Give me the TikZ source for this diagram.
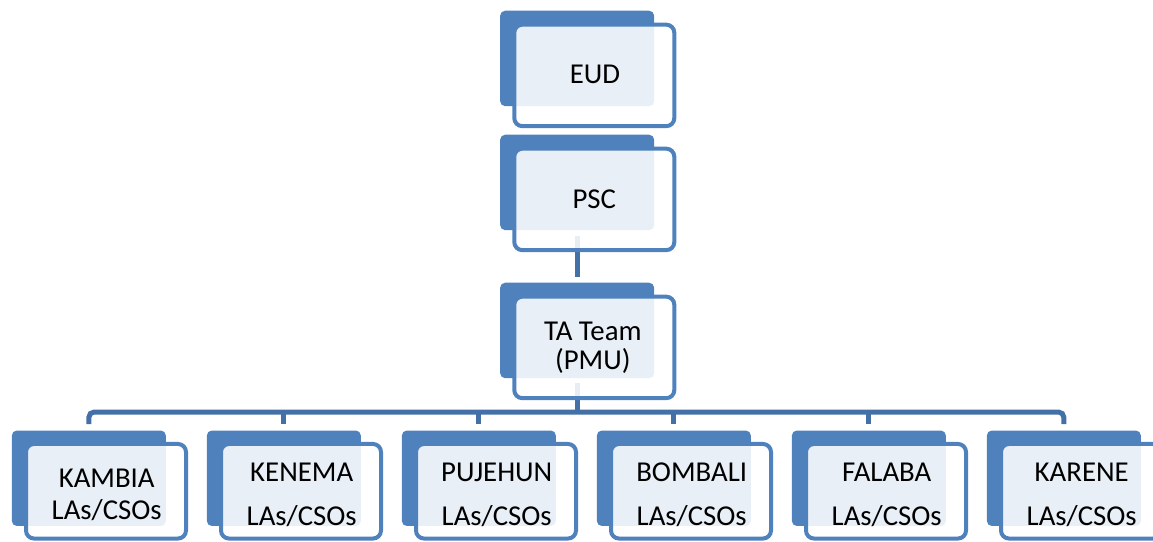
\documentclass[tikz,border=0pt]{standalone}
\usepackage{fontspec}
\setmainfont{Carlito}
\usetikzlibrary{calc}
\pgfdeclarelayer{background}
\pgfsetlayers{background,main}
\definecolor{accent}{HTML}{4F81BD}
\definecolor{linkblue}{HTML}{4470A8}
\tikzset{
  backcard/.style={fill=accent, draw=none, rounded corners=3.75pt,
    minimum width=115.5pt, minimum height=71.6pt, inner sep=0pt, outer sep=0pt},
  frontcard/.style={draw=accent, line width=3pt, fill=white, fill opacity=0.88,
    rounded corners=6pt, minimum width=120pt, inner sep=0pt, outer sep=0pt},
  tallcard/.style={minimum height=76.1pt},
  lowcard/.style={minimum height=70.9pt},
  caption/.style={font=\fontsize{21.6}{26}\selectfont, anchor=base, inner sep=0pt, text=black},
  conn/.style={draw=linkblue, line width=3.75pt},
}
% one unit: back card (filled) plus the framed card laid over it
% #1 name, #2 left, #3 top, #4 height style, #5 vertical offset of the frame centre
\newcommand\orgcard[5]{%
  \node[backcard] (#1-b) at ({#2+77.15},{#3+47.75}) {};
  \node[frontcard,#4] (#1) at ({#2+94.3},{#3+#5}) {};
}
\begin{document}
\begin{tikzpicture}[x=0.75pt,y=-0.75pt]
\useasboundingbox (0,0) rectangle (1153,542);
\clip (0,0) rectangle (1153,542);

% cards
\orgcard{eud}{500}{10.7}{tallcard}{64.7}
\orgcard{psc}{500}{134.7}{tallcard}{64.7}
\orgcard{ta}{500}{282.7}{tallcard}{64.7}
\orgcard{kambia}{11.7}{430.5}{lowcard}{60.75}
\orgcard{kenema}{206.7}{430.5}{lowcard}{60.75}
\orgcard{pujehun}{401.7}{430.5}{lowcard}{60.75}
\orgcard{bombali}{596.7}{430.5}{lowcard}{60.75}
\orgcard{falaba}{791.7}{430.5}{lowcard}{60.75}
\orgcard{karene}{986.7}{430.5}{lowcard}{60.75}

% captions
\node[caption] (eud-t) at (595,83.3) {EUD};
\node[caption] (psc-t) at (594.3,208.3) {PSC};
\node[caption] (ta-t1) at (592.8,340) {TA Team};
\node[caption] (ta-t2) at (592.8,369) {(PMU)};
\node[caption] (kambia-t1) at (106.7,487.3) {KAMBIA};
\node[caption] (kambia-t2) at (106.7,519.3) {LAs/CSOs};
\node[caption] (kenema-t1) at (301.7,481.3) {KENEMA};
\node[caption] (kenema-t2) at (301.7,525.5) {LAs/CSOs};
\node[caption] (pujehun-t1) at (496.7,481.3) {PUJEHUN};
\node[caption] (pujehun-t2) at (496.7,525.5) {LAs/CSOs};
\node[caption] (bombali-t1) at (691.7,481.3) {BOMBALI};
\node[caption] (bombali-t2) at (691.7,525.5) {LAs/CSOs};
\node[caption] (falaba-t1) at (886.7,481.3) {FALABA};
\node[caption] (falaba-t2) at (886.7,525.5) {LAs/CSOs};
\node[caption] (karene-t1) at (1081.7,481.3) {KARENE};
\node[caption] (karene-t2) at (1081.7,525.5) {LAs/CSOs};

% connectors behind the cards
\begin{pgfonlayer}{background}
\coordinate (busy) at (0,412);
\draw[conn] ($(psc-b.south)+(0,6)$) -- ($(ta-b.north)+(0,-6)$);
\draw[conn] ($(ta-b.south)+(0,5)$) -- (busy -| ta-b.south);
\draw[conn, rounded corners=4pt] ($(kambia-b.north)+(0,-6.5)$) |- (busy -| karene-b.north)
  -- ($(karene-b.north)+(0,-6.5)$);
\foreach \n in {kenema,pujehun,bombali,falaba}
  \draw[conn] (busy -| \n-b.north) -- ($(\n-b.north)+(0,-6.5)$);
\end{pgfonlayer}
\end{tikzpicture}
\end{document}
